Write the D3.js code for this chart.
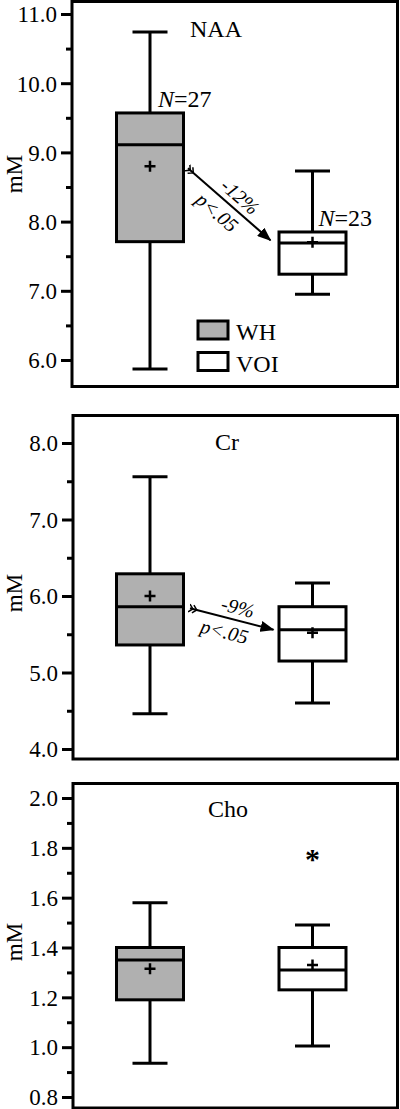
<!DOCTYPE html>
<html>
<head>
<meta charset="utf-8">
<script src="https://cdn.jsdelivr.net/npm/d3@7"></script>
<style>
  body { margin: 0; background: #fff; }
  text { font-family: "Liberation Serif", "Times New Roman", serif; fill: #000; }
</style>
</head>
<body>
<div id="chart"></div>
<script>
// groups and box stats: [min, q1, median, q3, max]
var groups = ["WH", "VOI"];

var naaWH = [5.87, 7.71, 9.11, 9.57, 10.74];
var naaVOI = [6.95, 7.24, 7.69, 7.85, 8.73];
var naaMean = [8.80, 7.70];
var naaN = ["27", "23"];
var naaTicks = [6, 7, 8, 9, 10, 11];

var crWH = [4.46, 5.36, 5.86, 6.29, 7.56];
var crVOI = [4.60, 5.15, 5.56, 5.86, 6.17];
var crMean = [6.00, 5.52];
var crTicks = [4, 5, 6, 7, 8];

var choWH = [0.935, 1.19, 1.35, 1.40, 1.58];
var choVOI = [1.005, 1.23, 1.31, 1.40, 1.49];
var choMean = [1.315, 1.33];
var choOutlierVOI = [1.78];
var choTicks = [0.8, 1.0, 1.2, 1.4, 1.6, 1.8, 2.0];

// arrows: [from value, to value]
var naaArrow = [8.77, 7.73];
var crArrow = [5.84, 5.56];

var svgWidth = 400;
var svgHeight = 1109;

var svg = d3.select("#chart")
  .append("svg")
  .attr("width", svgWidth)
  .attr("height", svgHeight);

var defs = svg.append("defs");
defs.append("marker")
  .attr("id", "head")
  .attr("viewBox", "0 0 14 11")
  .attr("refX", 13)
  .attr("refY", 5.5)
  .attr("markerWidth", 14)
  .attr("markerHeight", 11)
  .attr("markerUnits", "userSpaceOnUse")
  .attr("orient", "auto")
  .append("path")
  .attr("d", "M0,0 L14,5.5 L0,11 Z")
  .attr("fill", "#000");

defs.append("marker")
  .attr("id", "tail")
  .attr("viewBox", "0 0 10 10")
  .attr("refX", 1)
  .attr("refY", 5)
  .attr("markerWidth", 10)
  .attr("markerHeight", 10)
  .attr("markerUnits", "userSpaceOnUse")
  .attr("orient", "auto")
  .append("path")
  .attr("d", "M0,1 L4,5 L0,9 M4,1 L8,5 L4,9")
  .attr("fill", "none")
  .attr("stroke", "#000")
  .attr("stroke-width", 1.5);

var x = d3.scalePoint()
  .domain(groups)
  .range([150, 312.5]);

var boxW = 67;
var capW = 35;
var fills = {"WH": "#b0b0b0", "VOI": "#ffffff"};

function drawPanel(p) {
  var g = svg.append("g");

  var y = d3.scaleLinear()
    .domain([p.ticks[0], p.ticks[p.ticks.length - 1]])
    .range(p.range);

  var minor = [];
  for (var i = 0; i < p.ticks.length - 1; i++) {
    minor.push((p.ticks[i] + p.ticks[i + 1]) / 2);
  }

  // minor ticks
  g.append("g")
    .attr("transform", `translate(${p.left}, 0)`)
    .call(d3.axisLeft(y).tickValues(minor).tickSize(6).tickFormat(""))
    .call(a => a.select(".domain").remove())
    .call(a => a.selectAll("line").attr("stroke-width", 3));

  // major ticks
  g.append("g")
    .attr("transform", `translate(${p.left}, 0)`)
    .call(d3.axisLeft(y).tickValues(p.ticks).tickSize(11).tickPadding(4).tickFormat(d3.format(".1f")))
    .call(a => a.select(".domain").remove())
    .call(a => a.selectAll("line").attr("stroke-width", 3))
    .call(a => a.selectAll("text")
      .style("font-family", '"Liberation Serif", serif')
      .style("font-size", "23px")
      .attr("dy", "0.34em"));

  // frame
  g.append("rect")
    .attr("x", p.left)
    .attr("y", p.top)
    .attr("width", p.right - p.left)
    .attr("height", p.bottom - p.top)
    .attr("fill", "none")
    .attr("stroke", "#000")
    .attr("stroke-width", 3);

  // y label
  g.append("text")
    .attr("transform", `translate(22, ${p.labelY}) rotate(-90)`)
    .attr("text-anchor", "middle")
    .style("font-size", "23px")
    .text("mM");

  // title
  g.append("text")
    .attr("x", p.titleX)
    .attr("y", p.titleY)
    .attr("text-anchor", "middle")
    .style("font-size", "24px")
    .text(p.title);

  var boxes = groups.map((k, i) => ({
    key: k,
    s: p.stats[i],
    mean: p.means[i]
  }));

  var bg = g.selectAll(".box")
    .data(boxes)
    .enter()
    .append("g")
    .attr("class", "box");

  // whiskers
  bg.append("line")
    .attr("x1", d => x(d.key))
    .attr("x2", d => x(d.key))
    .attr("y1", d => y(d.s[0]))
    .attr("y2", d => y(d.s[4]))
    .attr("stroke", "#000")
    .attr("stroke-width", 3);

  bg.selectAll(".cap")
    .data(d => [d.s[0], d.s[4]].map(v => ({key: d.key, v: v})))
    .enter()
    .append("line")
    .attr("x1", d => x(d.key) - capW / 2)
    .attr("x2", d => x(d.key) + capW / 2)
    .attr("y1", d => y(d.v))
    .attr("y2", d => y(d.v))
    .attr("stroke", "#000")
    .attr("stroke-width", 3);

  bg.append("rect")
    .attr("x", d => x(d.key) - boxW / 2)
    .attr("y", d => y(d.s[3]))
    .attr("width", boxW)
    .attr("height", d => y(d.s[1]) - y(d.s[3]))
    .attr("fill", d => fills[d.key])
    .attr("stroke", "#000")
    .attr("stroke-width", 3);

  bg.append("line")
    .attr("x1", d => x(d.key) - boxW / 2)
    .attr("x2", d => x(d.key) + boxW / 2)
    .attr("y1", d => y(d.s[2]))
    .attr("y2", d => y(d.s[2]))
    .attr("stroke", "#000")
    .attr("stroke-width", 3);

  // mean cross
  bg.append("path")
    .attr("d", d => {
      var cx = x(d.key), cy = y(d.mean);
      return `M${cx - 5.5},${cy}H${cx + 5.5}M${cx},${cy - 5.5}V${cy + 5.5}`;
    })
    .attr("stroke", "#000")
    .attr("stroke-width", 2.5);

  return {g: g, y: y};
}

function drawArrow(panel, vals, dx, pct) {
  var g = panel.g, y = panel.y;
  var x1 = x("WH") + dx[0], y1 = y(vals[0]);
  var x2 = x("VOI") + dx[1], y2 = y(vals[1]);
  g.append("line")
    .attr("x1", x1).attr("y1", y1)
    .attr("x2", x2).attr("y2", y2)
    .attr("stroke", "#000")
    .attr("stroke-width", 2)
    .attr("marker-start", "url(#tail)")
    .attr("marker-end", "url(#head)");

  var ang = Math.atan2(y2 - y1, x2 - x1) * 180 / Math.PI;
  var mx = (x1 + x2) / 2, my = (y1 + y2) / 2;
  var lg = g.append("g")
    .attr("transform", `translate(${mx}, ${my}) rotate(${ang})`);
  lg.append("text")
    .attr("x", 3)
    .attr("y", -6)
    .attr("text-anchor", "middle")
    .style("font-size", "20px")
    .style("font-style", "italic")
    .text(pct);
  lg.append("text")
    .attr("x", -4)
    .attr("y", 21)
    .attr("text-anchor", "middle")
    .style("font-size", "20px")
    .style("font-style", "italic")
    .text("p<.05");
}

// NAA
var naa = drawPanel({
  title: "NAA", titleX: 216, titleY: 37,
  left: 72, top: 1.5, right: 397.5, bottom: 386.5,
  range: [360, 14], ticks: naaTicks,
  stats: [naaWH, naaVOI], means: naaMean, labelY: 174
});
drawArrow(naa, naaArrow, [38, -42], "-12%");

naa.g.selectAll(".ntext")
  .data(groups)
  .enter()
  .append("text")
  .attr("x", (d, i) => x(d) + [8, 6][i])
  .attr("y", (d, i) => naa.y([naaWH, naaVOI][i][3]) - 6)
  .style("font-size", "24px")
  .each(function(d, i) {
    var t = d3.select(this);
    t.append("tspan").style("font-style", "italic").text("N");
    t.append("tspan").text("=" + naaN[i]);
  });

// legend
var leg = naa.g.selectAll(".leg")
  .data(groups)
  .enter()
  .append("g")
  .attr("transform", (d, i) => `translate(198, ${321 + i * 31.5})`);
leg.append("rect")
  .attr("width", 30)
  .attr("height", 18)
  .attr("fill", d => fills[d])
  .attr("stroke", "#000")
  .attr("stroke-width", 3);
leg.append("text")
  .attr("x", 38)
  .attr("y", 19)
  .style("font-size", "24px")
  .text(d => d);

// Cr
var cr = drawPanel({
  title: "Cr", titleX: 227, titleY: 450,
  left: 73, top: 415.5, right: 397.5, bottom: 759,
  range: [749, 443], ticks: crTicks,
  stats: [crWH, crVOI], means: crMean, labelY: 593
});
drawArrow(cr, crArrow, [40, -39], "-9%");

// Cho
var cho = drawPanel({
  title: "Cho", titleX: 228, titleY: 817,
  left: 73, top: 783.5, right: 397.5, bottom: 1108,
  range: [1097, 798], ticks: choTicks,
  stats: [choWH, choVOI], means: choMean, labelY: 942
});

cho.g.selectAll(".outlier")
  .data(choOutlierVOI)
  .enter()
  .append("text")
  .attr("x", x("VOI"))
  .attr("y", d => cho.y(d) + 16)
  .attr("text-anchor", "middle")
  .style("font-size", "30px")
  .style("font-weight", "bold")
  .text("*");
</script>
</body>
</html>
